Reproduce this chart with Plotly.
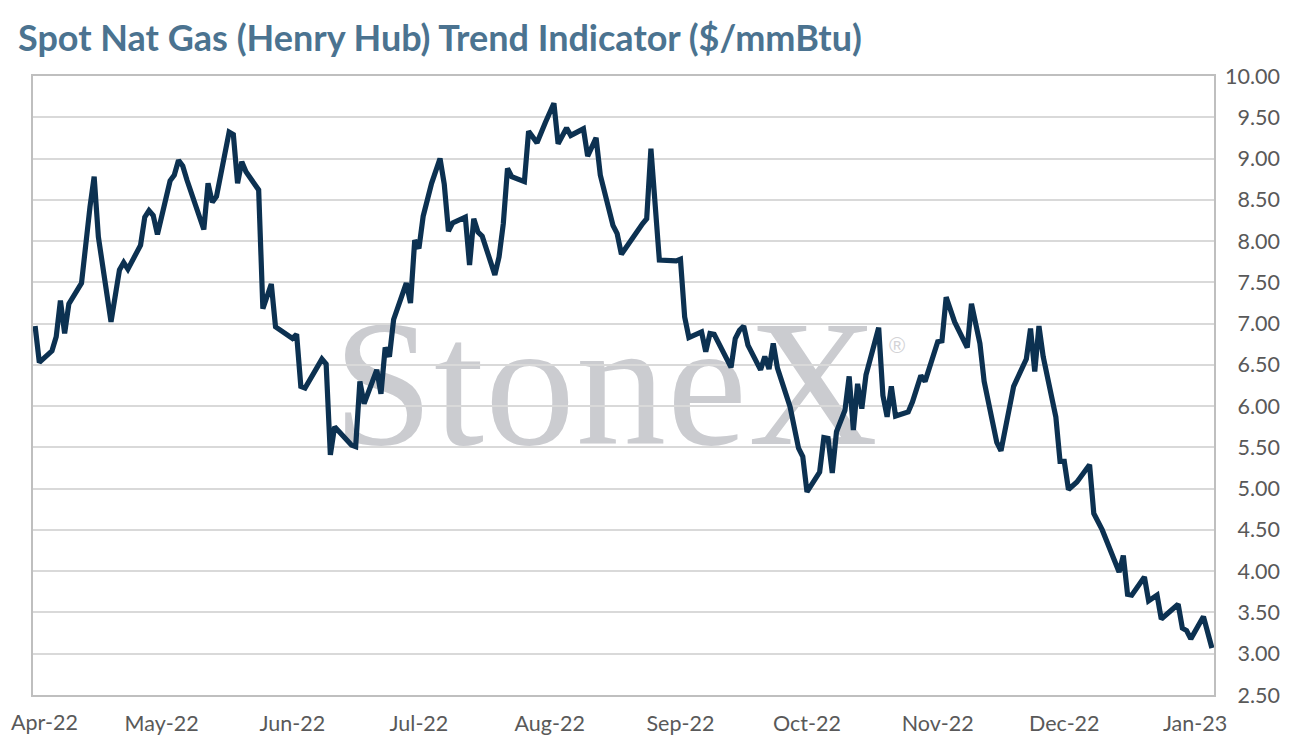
import base64
import plotly.graph_objects as go

# ---- data ----
dates = [
    "2022-04-01", "2022-04-02", "2022-04-05", "2022-04-06", "2022-04-07", "2022-04-08",
    "2022-04-09", "2022-04-12", "2022-04-14", "2022-04-15", "2022-04-16", "2022-04-19",
    "2022-04-21", "2022-04-22", "2022-04-23", "2022-04-26", "2022-04-27", "2022-04-28",
    "2022-04-29", "2022-04-30", "2022-05-03", "2022-05-04", "2022-05-05", "2022-05-06",
    "2022-05-07", "2022-05-11", "2022-05-12", "2022-05-13", "2022-05-14", "2022-05-17",
    "2022-05-18", "2022-05-19", "2022-05-20", "2022-05-21", "2022-05-24", "2022-05-25",
    "2022-05-27", "2022-05-28", "2022-06-01", "2022-06-02", "2022-06-03", "2022-06-04",
    "2022-06-08", "2022-06-09", "2022-06-10", "2022-06-11", "2022-06-15", "2022-06-16",
    "2022-06-17", "2022-06-18", "2022-06-21", "2022-06-22", "2022-06-23", "2022-06-24",
    "2022-06-25", "2022-06-28", "2022-06-29", "2022-06-30", "2022-07-01", "2022-07-02",
    "2022-07-04", "2022-07-06", "2022-07-07", "2022-07-08", "2022-07-09", "2022-07-12",
    "2022-07-13", "2022-07-14", "2022-07-15", "2022-07-16", "2022-07-19", "2022-07-20",
    "2022-07-21", "2022-07-22", "2022-07-23", "2022-07-26", "2022-07-27", "2022-07-29",
    "2022-07-31", "2022-08-02", "2022-08-03", "2022-08-05", "2022-08-06", "2022-08-09",
    "2022-08-10", "2022-08-12", "2022-08-13", "2022-08-16", "2022-08-17", "2022-08-18",
    "2022-08-23", "2022-08-24", "2022-08-25", "2022-08-27", "2022-08-31", "2022-09-01",
    "2022-09-02", "2022-09-03", "2022-09-06", "2022-09-07", "2022-09-08", "2022-09-09",
    "2022-09-13", "2022-09-14", "2022-09-15", "2022-09-16", "2022-09-17", "2022-09-20",
    "2022-09-21", "2022-09-22", "2022-09-23", "2022-09-24", "2022-09-27", "2022-09-29",
    "2022-09-30", "2022-10-01", "2022-10-04", "2022-10-05", "2022-10-06", "2022-10-07",
    "2022-10-08", "2022-10-10", "2022-10-11", "2022-10-12", "2022-10-13", "2022-10-14",
    "2022-10-15", "2022-10-18", "2022-10-19", "2022-10-20", "2022-10-21", "2022-10-22",
    "2022-10-25", "2022-10-26", "2022-10-28", "2022-10-29", "2022-11-01", "2022-11-02",
    "2022-11-03", "2022-11-05", "2022-11-08", "2022-11-09", "2022-11-11", "2022-11-12",
    "2022-11-15", "2022-11-16", "2022-11-19", "2022-11-22", "2022-11-23", "2022-11-24",
    "2022-11-25", "2022-11-26", "2022-11-29", "2022-11-30", "2022-12-01", "2022-12-02",
    "2022-12-04", "2022-12-07", "2022-12-08", "2022-12-10", "2022-12-14", "2022-12-15",
    "2022-12-16", "2022-12-17", "2022-12-20", "2022-12-21", "2022-12-23", "2022-12-24",
    "2022-12-28", "2022-12-29", "2022-12-30", "2022-12-31", "2023-01-03", "2023-01-05",
]
prices = [
    6.97, 6.53, 6.67, 6.84, 7.28, 6.88,
    7.24, 7.49, 8.41, 8.78, 8.05, 7.02,
    7.65, 7.74, 7.66, 7.95, 8.29, 8.37,
    8.31, 8.08, 8.73, 8.80, 8.98, 8.91,
    8.74, 8.14, 8.70, 8.47, 8.54, 9.32,
    9.29, 8.70, 8.96, 8.84, 8.62, 7.18,
    7.48, 6.96, 6.82, 6.87, 6.24, 6.22,
    6.57, 6.51, 5.41, 5.75, 5.53, 5.51,
    6.30, 6.03, 6.44, 6.15, 6.71, 6.60,
    7.05, 7.49, 7.25, 8.01, 7.91, 8.30,
    8.70, 9.00, 8.69, 8.12, 8.22, 8.29,
    7.71, 8.27, 8.11, 8.06, 7.59, 7.81,
    8.21, 8.88, 8.78, 8.72, 9.33, 9.19,
    9.44, 9.67, 9.18, 9.37, 9.28, 9.36,
    9.03, 9.25, 8.80, 8.19, 8.09, 7.84,
    8.21, 8.27, 9.12, 7.77, 7.76, 7.78,
    7.08, 6.83, 6.90, 6.66, 6.88, 6.87,
    6.47, 6.82, 6.92, 6.97, 6.74, 6.44,
    6.60, 6.45, 6.76, 6.46, 5.99, 5.49,
    5.39, 4.96, 5.20, 5.62, 5.61, 5.19,
    5.69, 5.95, 6.36, 5.71, 6.27, 5.97,
    6.38, 6.95, 6.13, 5.87, 6.24, 5.88,
    5.93, 6.05, 6.37, 6.30, 6.78, 6.79,
    7.32, 7.02, 6.71, 7.24, 6.76, 6.30,
    5.56, 5.46, 6.24, 6.57, 6.94, 6.42,
    6.97, 6.60, 5.87, 5.33, 5.33, 4.99,
    5.08, 5.29, 4.70, 4.50, 3.99, 4.19,
    3.72, 3.71, 3.93, 3.64, 3.71, 3.42,
    3.60, 3.31, 3.28, 3.18, 3.45, 3.07,
]
month_ticks = ["2022-04-01", "2022-05-01", "2022-06-01", "2022-07-01", "2022-08-01",
               "2022-09-01", "2022-10-01", "2022-11-01", "2022-12-01", "2023-01-01"]
month_labels = ["Apr-22", "May-22", "Jun-22", "Jul-22", "Aug-22",
                "Sep-22", "Oct-22", "Nov-22", "Dec-22", "Jan-23"]
y_ticks = [2.5, 3.0, 3.5, 4.0, 4.5, 5.0, 5.5, 6.0, 6.5, 7.0, 7.5, 8.0, 8.5, 9.0, 9.5, 10.0]
y_tick_labels = [("\u2007" if v < 10 else "") + f"{v:.2f}" for v in y_ticks]
title_text = "Spot Nat Gas (Henry Hub) Trend Indicator ($/mmBtu)"

# ---- layout geometry (screen pixels; page body adds an 8px offset) ----
W, H = 1292, 754
OFF = 8
PLOT_L, PLOT_T, PLOT_R, PLOT_B = 33, 76, 1214, 695
L, T = PLOT_L - OFF, PLOT_T - OFF
R, B = W - (PLOT_R - OFF), H - (PLOT_B - OFF)
PW, PH = PLOT_R - PLOT_L, PLOT_B - PLOT_T
TICK_FONT = dict(family="Lato, Noto Sans, sans-serif", size=21.5, color="#595959")

# watermark (behind gridlines) as an SVG image
svg = (
    f"<svg xmlns='http://www.w3.org/2000/svg' width='{PW}' height='{PH}' viewBox='0 0 {PW} {PH}' "
    "preserveAspectRatio='none'>"
    f"<text x='{333 - PLOT_L}' y='{444 - PLOT_T}' font-family='Liberation Serif, Times New Roman, serif' "
    "font-size='180' fill='#CBCCD0' letter-spacing='1'>StoneX</text>"
    f"<text x='{889 - PLOT_L}' y='{353 - PLOT_T}' font-family='Liberation Sans, Arial, sans-serif' "
    "font-size='22' fill='#D3D3D6'>\u00ae</text>"
    "</svg>"
)
svg_uri = "data:image/svg+xml;base64," + base64.b64encode(svg.encode("utf-8")).decode()

fig = go.Figure()
fig.add_trace(go.Scatter(
    x=dates, y=prices, mode="lines",
    line=dict(color="#0C3151", width=5.2),
    hoverinfo="x+y", showlegend=False,
))

# first month label would run off the page edge: draw it as an annotation nudged inside
x_ticktext = [""] + month_labels[1:]

fig.update_layout(
    width=W, height=H,
    margin=dict(l=L, r=R, t=T, b=B, autoexpand=False),
    paper_bgcolor="white",
    plot_bgcolor="rgba(0,0,0,0)",
    font=dict(family="Lato, Noto Sans, sans-serif", color="#595959", size=21.5),
    title=dict(
        text=title_text,
        x=(18 - OFF) / W, xanchor="left", xref="container",
        y=1 - (38 - OFF) / H, yanchor="middle", yref="container",
        font=dict(family="Lato, Noto Sans, sans-serif", size=36, color="#4B7390", weight="bold"),
    ),
    images=[dict(
        source=svg_uri, xref="paper", yref="paper", x=0, y=1,
        sizex=1, sizey=1, xanchor="left", yanchor="top",
        sizing="stretch", layer="below",
    )],
    annotations=[dict(
        text=month_labels[0], xref="paper", yref="paper",
        x=(OFF + 1 - PLOT_L) / PW, y=0, xanchor="left", yanchor="middle",
        yshift=-(722 - PLOT_B), showarrow=False, font=TICK_FONT,
    )],
)

fig.update_xaxes(
    type="date", automargin=False,
    range=["2022-03-31 12:00", "2023-01-05 12:00"],
    tickvals=month_ticks, ticktext=x_ticktext,
    ticks="", showgrid=False,
    showline=True, mirror=True, linecolor="#BFBFBF", linewidth=1.5,
    ticklabelstandoff=8,
    tickfont=TICK_FONT,
)
fig.update_yaxes(
    side="right", range=[2.5, 10.0], automargin=False,
    tickvals=y_ticks, ticktext=y_tick_labels,
    ticks="", showgrid=True, gridcolor="#D9D9D9", gridwidth=1.5,
    showline=True, mirror=True, linecolor="#BFBFBF", linewidth=1.5,
    zeroline=False, ticklabelstandoff=5, ticklabeloverflow="allow",
    tickfont=TICK_FONT,
)

fig.write_html("out.html")
